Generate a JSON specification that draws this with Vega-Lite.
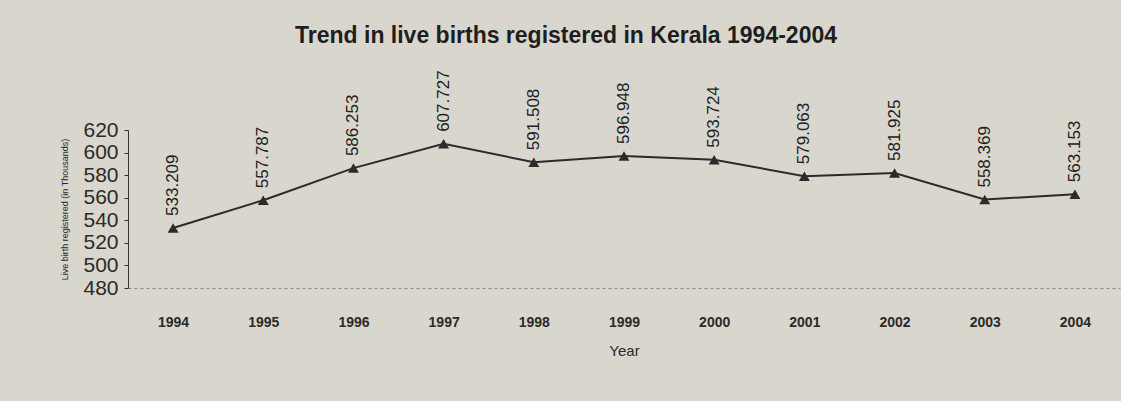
{
  "$schema": "https://vega.github.io/schema/vega-lite/v6.json",
  "width": 992,
  "height": 158,
  "autosize": {"type": "none"},
  "padding": {"left": 128, "top": 130, "right": 1, "bottom": 113},
  "background": "#d9d6ce",
  "title": {
    "text": "Trend in live births registered in Kerala 1994-2004",
    "font": "Liberation Sans",
    "fontSize": 23,
    "fontWeight": "bold",
    "color": "#1e1e1e",
    "anchor": "middle",
    "offset": 22,
    "dx": -58
  },
  "data": {
    "values": [
      {"Year": "1994", "v": 533.209},
      {"Year": "1995", "v": 557.787},
      {"Year": "1996", "v": 586.253},
      {"Year": "1997", "v": 607.727},
      {"Year": "1998", "v": 591.508},
      {"Year": "1999", "v": 596.948},
      {"Year": "2000", "v": 593.724},
      {"Year": "2001", "v": 579.063},
      {"Year": "2002", "v": 581.925},
      {"Year": "2003", "v": 558.369},
      {"Year": "2004", "v": 563.153}
    ]
  },
  "encoding": {
    "x": {
      "field": "Year",
      "type": "ordinal",
      "scale": {"type": "point", "padding": 0.5},
      "axis": {
        "title": "Year",
        "labelAngle": 0,
        "labelFont": "Liberation Sans",
        "labelFontSize": 14,
        "labelFontWeight": "bold",
        "labelColor": "#2a2a2a",
        "labelPadding": 27,
        "ticks": false,
        "domainColor": "#8a8a8a",
        "domainDash": [3, 3],
        "domainWidth": 1,
        "titleFont": "Liberation Sans",
        "titleFontSize": 15,
        "titleFontWeight": "normal",
        "titleColor": "#2a2a2a",
        "titlePadding": 14,
        "grid": false
      }
    },
    "y": {
      "field": "v",
      "type": "quantitative",
      "scale": {"domain": [480, 620], "nice": false, "zero": false},
      "axis": {
        "title": "Live birth registered (in Thousands)",
        "titleFont": "Liberation Sans",
        "titleFontSize": 9,
        "titleFontWeight": "normal",
        "titleColor": "#2a2a2a",
        "titlePadding": 13,
        "values": [480, 500, 520, 540, 560, 580, 600, 620],
        "labelFont": "Liberation Sans",
        "labelFontSize": 21,
        "labelColor": "#2a2a2a",
        "labelPadding": 6,
        "tickSize": 4,
        "tickColor": "#333",
        "domainColor": "#333",
        "grid": false
      }
    }
  },
  "layer": [
    {"mark": {"type": "line", "color": "#2b2b2b", "strokeWidth": 2}},
    {"mark": {"type": "point", "shape": "triangle-up", "filled": true, "color": "#2b2b2b", "size": 120, "opacity": 1}},
    {
      "mark": {"type": "text", "angle": -90, "align": "left", "baseline": "middle", "dx": 12, "font": "Liberation Sans", "fontSize": 17, "color": "#222"},
      "encoding": {"text": {"field": "v", "type": "quantitative", "format": ".3f"}}
    }
  ],
  "config": {"view": {"stroke": null}}
}
